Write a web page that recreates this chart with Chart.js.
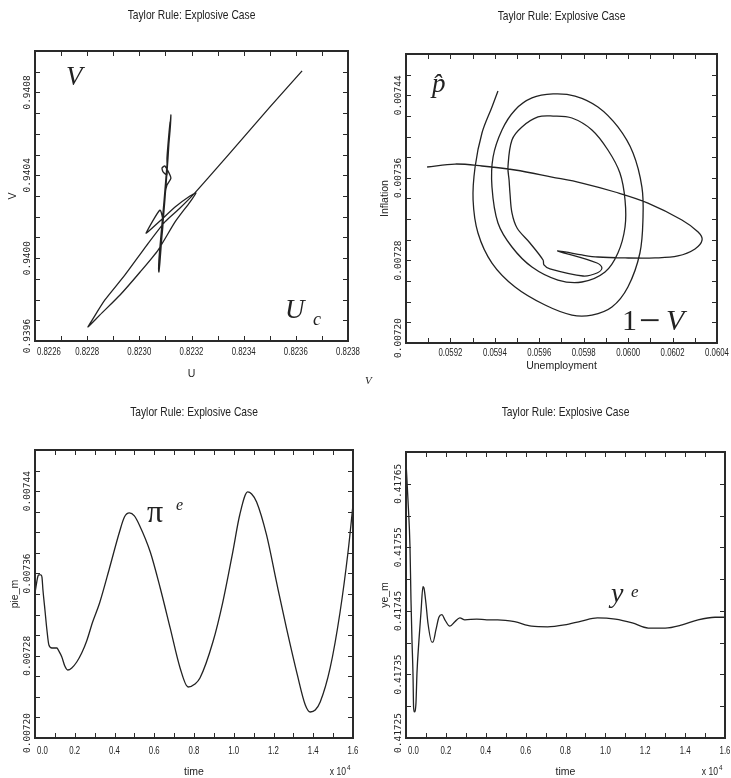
<!DOCTYPE html>
<html>
<head>
<meta charset="utf-8">
<script src="https://cdn.jsdelivr.net/npm/chart.js@4.4.1/dist/chart.umd.min.js"></script>
<style>
  html, body { margin: 0; padding: 0; background: #fff; }
  body { width: 731px; height: 778px; position: relative; overflow: hidden; }
  canvas { position: absolute; }
</style>
</head>
<body>
<canvas id="uv" width="365" height="390" style="left:0;top:0"></canvas>
<canvas id="phillips" width="366" height="390" style="left:365px;top:0"></canvas>
<canvas id="pie" width="365" height="383" style="left:0;top:395px"></canvas>
<canvas id="ye" width="366" height="383" style="left:365px;top:395px"></canvas>
<script>
// top left: V against U
const uPath = [0.823102, 0.823110, 0.823118, 0.823121, 0.823118, 0.823106, 0.823095, 0.823083, 0.823075, 0.823075,
  0.823079, 0.823087, 0.823098, 0.823110, 0.823118, 0.823114, 0.823106,
  0.823106, 0.823091, 0.823087, 0.823098, 0.823121, 0.823106, 0.823098,
  0.823091, 0.823083, 0.823079, 0.823083, 0.823091, 0.823079, 0.823026, 0.823041, 0.823079, 0.823137,
  0.823194, 0.823217, 0.823194, 0.823137, 0.823072, 0.823003, 0.822926, 0.822849, 0.822811, 0.822803,
  0.822819, 0.822868, 0.822945, 0.823029, 0.823098, 0.823156, 0.823213, 0.823348, 0.823501, 0.823624];
const vPath = [0.940353, 0.940522, 0.940643, 0.940691, 0.940619, 0.940450, 0.940281, 0.940112, 0.939991, 0.939933,
  0.939981, 0.940112, 0.940281, 0.940484, 0.940657, 0.940609, 0.940484,
  0.940401, 0.940416, 0.940435, 0.940445, 0.940387, 0.940353, 0.940305,
  0.940208, 0.940088, 0.940015, 0.940063, 0.940175, 0.940232, 0.940121, 0.940136, 0.940179, 0.940247,
  0.940300, 0.940315, 0.940271, 0.940175, 0.940039, 0.939933, 0.939822, 0.939726, 0.939677, 0.939668,
  0.939701, 0.939798, 0.939919, 0.940063, 0.940175, 0.940242, 0.940315, 0.940508, 0.940730, 0.940904];

// top right: inflation against unemployment
const unemployment = [0.059095, 0.059221, 0.059342, 0.059491, 0.059657, 0.059792, 0.059941, 0.060089, 0.060242, 0.060315,
  0.060333, 0.060301, 0.060224, 0.060121, 0.059986, 0.059864, 0.059792, 0.059716, 0.059684,
  0.059860, 0.059882, 0.059860, 0.059797, 0.059648, 0.059621, 0.059617, 0.059558, 0.059500, 0.059477,
  0.059468, 0.059464, 0.059459, 0.059477, 0.059522, 0.059594, 0.059662, 0.059747, 0.059837, 0.059909,
  0.059963, 0.059986, 0.059986, 0.059954, 0.059896, 0.059792, 0.059684, 0.059567, 0.059477, 0.059414,
  0.059387, 0.059392, 0.059432, 0.059491, 0.059567, 0.059662, 0.059761, 0.059864, 0.059954, 0.060022,
  0.060062, 0.060067, 0.060053, 0.059999, 0.059927, 0.059837, 0.059747, 0.059626, 0.059491, 0.059387,
  0.059324, 0.059302, 0.059311, 0.059342, 0.059387, 0.059414];
const inflation = [0.0073705, 0.0073734, 0.0073715, 0.0073676, 0.0073608, 0.0073550, 0.0073463, 0.0073356, 0.0073192, 0.0073075,
  0.0072998, 0.0072911, 0.0072843, 0.0072824, 0.0072824, 0.0072833, 0.0072853, 0.0072882, 0.0072891,
  0.0072775, 0.0072727, 0.0072678, 0.0072649, 0.0072717, 0.0072756, 0.0072804, 0.0072969, 0.0073114, 0.0073260,
  0.0073453, 0.0073579, 0.0073705, 0.0073967, 0.0074093, 0.0074190, 0.0074199, 0.0074180, 0.0074064, 0.0073870,
  0.0073647, 0.0073386, 0.0073124, 0.0072872, 0.0072688, 0.0072591, 0.0072610, 0.0072736, 0.0072930, 0.0073163,
  0.0073511, 0.0073802, 0.0074064, 0.0074258, 0.0074374, 0.0074413, 0.0074393, 0.0074287, 0.0074093, 0.0073841,
  0.0073511, 0.0073221, 0.0072872, 0.0072543, 0.0072349, 0.0072271, 0.0072271, 0.0072368, 0.0072543, 0.0072775,
  0.0073066, 0.0073386, 0.0073705, 0.0074035, 0.0074287, 0.0074442];

// bottom left: pie_m over time
const pieTime = [0, 150, 200, 300, 350, 400, 500, 600, 700, 850,
  1100, 1200, 1350, 1500, 1650, 1850, 2100, 2350, 2600, 2900,
  3250, 3750, 4250, 4500, 4750, 5000, 5250, 5800, 6300, 6800,
  7300, 7700, 8050, 8300, 8950, 9450, 9950, 10300, 10700, 10900,
  11150, 11650, 12150, 12650, 13200, 13600, 13850, 14100, 14350, 14850,
  15350, 15750, 16000];
const pieM = [0.0073410, 0.0073575, 0.0073585, 0.0073585, 0.0073565, 0.0073439, 0.0073245, 0.0073050, 0.0072904, 0.0072875,
  0.0072875, 0.0072846, 0.0072788, 0.0072700, 0.0072661, 0.0072681, 0.0072739, 0.0072826, 0.0072943, 0.0073128,
  0.0073313, 0.0073653, 0.0074003, 0.0074149, 0.0074188, 0.0074159, 0.0074071, 0.0073808, 0.0073458, 0.0073070,
  0.0072681, 0.0072496, 0.0072525, 0.0072583, 0.0072933, 0.0073322, 0.0073808, 0.0074168, 0.0074392, 0.0074372,
  0.0074295, 0.0073974, 0.0073517, 0.0073070, 0.0072613, 0.0072321, 0.0072253, 0.0072272, 0.0072350, 0.0072681,
  0.0073225, 0.0073808, 0.0074266];

// bottom right: ye_m over time
const yeTime = [0, 100, 200, 250, 300, 350, 380, 420, 500, 550,
  650, 750, 850, 900, 1000, 1100, 1300, 1350, 1500, 1650,
  1800, 1950, 2200, 2450, 2700, 2950, 3550, 4050, 4600, 5450,
  6300, 7100, 7950, 8800, 9600, 10500, 11350, 12150, 13000, 13850,
  14650, 15500, 16000];
const yeM = [0.417684, 0.417624, 0.417551, 0.417467, 0.417404, 0.417352, 0.417299, 0.417291, 0.417305, 0.417352,
  0.417404, 0.417447, 0.417488, 0.417486, 0.417462, 0.417431, 0.417401, 0.417401, 0.417420, 0.417440,
  0.417444, 0.417436, 0.417426, 0.417433, 0.417439, 0.417436, 0.417437, 0.417436, 0.417436, 0.417433,
  0.417426, 0.417425, 0.417428, 0.417434, 0.417439, 0.417437, 0.417431, 0.417423, 0.417423, 0.417428,
  0.417436, 0.417440, 0.417440];

// labelled ticks
const uTicks = [0.8226, 0.8228, 0.8230, 0.8232, 0.8234, 0.8236, 0.8238];
const vTicks = [0.9396, 0.9400, 0.9404, 0.9408];
const unemploymentTicks = [0.0592, 0.0594, 0.0596, 0.0598, 0.0600, 0.0602, 0.0604];
const inflationTicks = [0.00720, 0.00728, 0.00736, 0.00744];
const timeTicks = [0, 2000, 4000, 6000, 8000, 10000, 12000, 14000, 16000];
const pieTicks = [0.00720, 0.00728, 0.00736, 0.00744];
const yeTicks = [0.41725, 0.41735, 0.41745, 0.41755, 0.41765];

const TITLE = 'Taylor Rule: Explosive Case';
const SANS = '"Liberation Sans", Arial, sans-serif';
const MONO = '"DejaVu Sans Mono", monospace';
const SERIF = '"Liberation Serif", "DejaVu Serif", serif';
const INK = '#222';

const fixed = d => v => v.toFixed(d);
const timeFmt = v => (v / 10000).toFixed(1);

function eachStep(min, max, step, fn) {
  const n = Math.round((max - min) / step);
  for (let i = 0; i <= n; i++) fn(min + i * step, i, n);
}

// condensed sans text, the old plotting font was very narrow
function narrowText(ctx, text, x, y, size, squeeze, align) {
  ctx.save();
  ctx.font = size + 'px ' + SANS;
  ctx.textAlign = align;
  ctx.textBaseline = 'middle';
  ctx.translate(x, y);
  ctx.scale(squeeze, 1);
  ctx.fillText(text, 0, 0);
  ctx.restore();
}

function framePlugin(p) {
  return {
    id: 'frame',
    afterDraw: function(chart) {
      const ctx = chart.ctx, a = chart.chartArea;
      const xs = chart.scales.x, ys = chart.scales.y;
      ctx.save();

      // inward ticks on all four sides
      ctx.strokeStyle = '#2a2a2a';
      ctx.lineWidth = 1;
      ctx.beginPath();
      eachStep(p.x.min, p.x.max, p.x.step, (v, i, n) => {
        if (i === 0 || i === n) return;
        const px = Math.round(xs.getPixelForValue(v)) + 0.5;
        ctx.moveTo(px, a.top); ctx.lineTo(px, a.top + 5);
        ctx.moveTo(px, a.bottom); ctx.lineTo(px, a.bottom - 5);
      });
      eachStep(p.y.min, p.y.max, p.y.step, (v, i, n) => {
        if (i === 0 || i === n) return;
        const py = Math.round(ys.getPixelForValue(v)) + 0.5;
        ctx.moveTo(a.left, py); ctx.lineTo(a.left + 5, py);
        ctx.moveTo(a.right, py); ctx.lineTo(a.right - 5, py);
      });
      ctx.stroke();
      ctx.lineWidth = 2;
      ctx.strokeRect(a.left, a.top, a.right - a.left, a.bottom - a.top);

      ctx.fillStyle = INK;
      p.x.labels.forEach(v => {
        const atEdge = Math.abs(v - p.x.min) < p.x.step / 10;
        narrowText(ctx, p.x.format(v), atEdge ? a.left + 2 : xs.getPixelForValue(v),
          a.bottom + p.x.labelGap, 11.5, 0.68, atEdge ? 'left' : 'center');
      });

      ctx.font = '9.5px ' + MONO;
      ctx.textAlign = 'center';
      ctx.textBaseline = 'middle';
      p.y.labels.forEach(v => {
        let py = ys.getPixelForValue(v);
        if (Math.abs(v - p.y.min) < p.y.step / 10) py -= 5;
        ctx.save();
        ctx.translate(a.left - 7, py);
        ctx.rotate(-Math.PI / 2);
        ctx.fillText(p.y.format(v), 0, 0);
        ctx.restore();
      });

      narrowText(ctx, TITLE, (a.left + a.right) / 2, p.titleY, 13.5, 0.76, 'center');

      if (p.x.exponent) {
        const ex = a.right - 7, ey = a.bottom + 34;
        narrowText(ctx, 'x 10', ex, ey, 11, 0.78, 'right');
        narrowText(ctx, '4', ex + 1, ey - 4, 8, 0.78, 'left');
      }

      ctx.textAlign = 'left';
      ctx.textBaseline = 'alphabetic';
      p.notes.forEach(n => {
        ctx.font = n.font + ' ' + SERIF;
        ctx.fillText(n.text, n.x, n.y);
      });
      ctx.restore();
    }
  };
}

function drawPanel(p) {
  const el = document.getElementById(p.id);
  const points = p.xs.map((x, i) => ({ x: x, y: p.ys[i] }));
  const titleFont = { family: SANS, size: 10.5 };

  return new Chart(el, {
    type: 'scatter',
    data: {
      datasets: [{
        data: points,
        showLine: true,
        borderColor: INK,
        borderWidth: 1.3,
        pointRadius: 0,
        tension: p.tension,
        cubicInterpolationMode: p.mode
      }]
    },
    options: {
      responsive: false,
      animation: false,
      layout: { padding: { left: 0, top: p.area.top, right: el.width - p.area.right, bottom: 0 } },
      plugins: {
        legend: { display: false },
        tooltip: { enabled: false }
      },
      scales: {
        x: {
          type: 'linear', min: p.x.min, max: p.x.max,
          grid: { display: false }, border: { display: false }, ticks: { display: false },
          title: { display: true, text: p.x.title, color: INK, font: titleFont, padding: { top: 0, bottom: p.x.titlePad } },
          afterFit: scale => { scale.height = el.height - p.area.bottom; }
        },
        y: {
          type: 'linear', min: p.y.min, max: p.y.max,
          grid: { display: false }, border: { display: false }, ticks: { display: false },
          title: { display: true, text: p.y.title, color: INK, font: titleFont, padding: { top: p.y.titlePad, bottom: 0 } },
          afterFit: scale => { scale.width = p.area.left; }
        }
      }
    },
    plugins: [framePlugin(p)]
  });
}

drawPanel({
  id: 'uv', xs: uPath, ys: vPath, tension: 0.2, mode: 'default',
  area: { left: 35, top: 51, right: 348, bottom: 341 }, titleY: 15,
  x: { min: 0.8226, max: 0.8238, step: 0.0001, labels: uTicks, format: fixed(4), title: 'U', titlePad: 10, labelGap: 11 },
  y: { min: 0.9396, max: 0.9410, step: 0.0001, labels: vTicks, format: fixed(4), title: 'V', titlePad: 7 },
  notes: [
    { text: 'V', font: 'italic 27px', x: 66, y: 85 },
    { text: 'U', font: 'italic 27px', x: 285, y: 318 },
    { text: 'c', font: 'italic 18px', x: 313, y: 325 }
  ]
});

drawPanel({
  id: 'phillips', xs: unemployment, ys: inflation, tension: 0.35, mode: 'default',
  area: { left: 41, top: 54, right: 352, bottom: 343 }, titleY: 16,
  x: { min: 0.0590, max: 0.0604, step: 0.0001, labels: unemploymentTicks, format: fixed(4), title: 'Unemployment', titlePad: 18, labelGap: 10 },
  y: { min: 0.00720, max: 0.00748, step: 0.00002, labels: inflationTicks, format: fixed(5), title: 'Inflation', titlePad: 14 },
  notes: [
    { text: 'p\u0302', font: 'italic 27px', x: 67, y: 92 },
    { text: '1', font: '30px', x: 257, y: 330 },
    { text: '\u2212', font: '38px', x: 274, y: 333 },
    { text: 'V', font: 'italic 30px', x: 301, y: 330 },
    { text: 'V', font: 'italic 11px', x: 0, y: 384 }
  ]
});

drawPanel({
  id: 'pie', xs: pieTime, ys: pieM, tension: 0.4, mode: 'monotone',
  area: { left: 35, top: 55, right: 353, bottom: 343 }, titleY: 17,
  x: { min: 0, max: 16000, step: 1000, labels: timeTicks, format: timeFmt, title: 'time', titlePad: 0, labelGap: 13, exponent: true },
  y: { min: 0.00720, max: 0.00748, step: 0.00002, labels: pieTicks, format: fixed(5), title: 'pie_m', titlePad: 9 },
  notes: [
    { text: '\u03c0', font: '32px', x: 147, y: 127 },
    { text: 'e', font: 'italic 16px', x: 176, y: 115 }
  ]
});

drawPanel({
  id: 'ye', xs: yeTime, ys: yeM, tension: 0.4, mode: 'monotone',
  area: { left: 41, top: 57, right: 360, bottom: 343 }, titleY: 17,
  x: { min: 0, max: 16000, step: 1000, labels: timeTicks, format: timeFmt, title: 'time', titlePad: 0, labelGap: 13, exponent: true },
  y: { min: 0.41725, max: 0.41770, step: 0.00005, labels: yeTicks, format: fixed(5), title: 'ye_m', titlePad: 14 },
  notes: [
    { text: 'y', font: 'italic 28px', x: 246, y: 207 },
    { text: 'e', font: 'italic 17px', x: 266, y: 202 }
  ]
});
</script>
</body>
</html>
